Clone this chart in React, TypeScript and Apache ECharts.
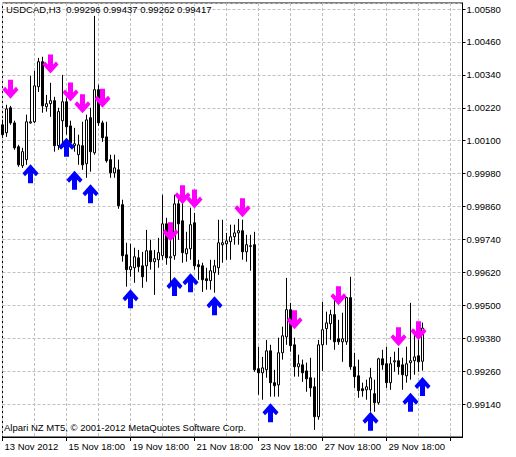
import React, { useEffect, useRef } from "react";
import * as echarts from "echarts";

const FONT = "'Liberation Sans', Arial, sans-serif";

// OHLC of USDCAD H3 bars, 13 Nov 2012 18:00 onwards
const opens = [
  1.00158, 1.00129, 1.0022, 1.00165, 1.00078, 1.00009, 1.00031, 1.00165, 1.00169, 1.00297,
  1.00388, 1.00224, 1.00235, 1.00246, 1.00082, 1.00173, 1.00242, 1.00154, 1.00082, 1.00049,
  1.00082, 1.00016, 1.00184, 1.00056, 1.00286, 1.00165, 1.00114, 1.00031, 0.99983, 0.99994,
  0.99867, 0.99684, 0.9963, 0.99637, 0.99673, 0.99644, 0.99644, 0.99699, 0.99659, 0.99666,
  0.99681, 0.99797, 0.99673, 0.99681, 0.9987, 0.99808, 0.99688, 0.99706, 0.99801, 0.99648,
  0.99644, 0.99597, 0.9959, 0.99619, 0.99637, 0.99721, 0.99724, 0.99732, 0.9975, 0.99764,
  0.99772, 0.99695, 0.99717, 0.99721, 0.99269, 0.99254, 0.99265, 0.99334, 0.99218, 0.9921,
  0.99327, 0.99385, 0.99484, 0.99356, 0.99276, 0.99283, 0.99261, 0.99236, 0.99203, 0.99094,
  0.99356, 0.99415, 0.99433, 0.99466, 0.99378, 0.99367, 0.99367, 0.99528, 0.99276, 0.99243,
  0.99196, 0.99192, 0.99192, 0.99178, 0.99145, 0.99305, 0.99287, 0.99218, 0.99294, 0.99298,
  0.99283, 0.99243, 0.99291, 0.99298, 0.99316, 0.99296,
];
const closes = [
  1.00122, 1.00216, 1.00165, 1.00074, 1.00012, 1.0006, 1.00169, 1.00169, 1.003, 1.00388,
  1.00227, 1.00235, 1.00246, 1.00082, 1.00206, 1.00242, 1.00151, 1.00093, 1.00089, 1.00085,
  1.00012, 1.00176, 1.0006, 1.00286, 1.00165, 1.00111, 1.00027, 0.99983, 1.00001, 0.99863,
  0.99681, 0.9963, 0.99641, 0.99677, 0.99641, 0.99604, 0.99699, 0.99659, 0.9967, 0.99692,
  0.99797, 0.99673, 0.99677, 0.9987, 0.99797, 0.99692, 0.99706, 0.99794, 0.99644, 0.99641,
  0.99593, 0.9959, 0.99626, 0.99644, 0.99728, 0.99728, 0.99735, 0.9975, 0.99764, 0.99772,
  0.99695, 0.99721, 0.99715, 0.99265, 0.99254, 0.99272, 0.99334, 0.99218, 0.99207, 0.99327,
  0.99389, 0.99484, 0.99353, 0.99276, 0.99287, 0.99254, 0.99232, 0.99199, 0.99094, 0.99356,
  0.99411, 0.99436, 0.99466, 0.99367, 0.99367, 0.99378, 0.99528, 0.99276, 0.9924, 0.99189,
  0.99189, 0.99203, 0.99236, 0.99145, 0.99305, 0.99283, 0.99218, 0.99287, 0.99298, 0.99276,
  0.99247, 0.99287, 0.99298, 0.99312, 0.99294, 0.99417,
];
const lows = [
  1.00111, 1.00114, 1.00158, 1.00067, 1.00005, 1.00001, 1.00012, 1.00162, 1.00165, 1.00278,
  1.00202, 1.00206, 1.00187, 1.0006, 1.00067, 1.00078, 1.00122, 1.00074, 1.0006, 1.00012,
  0.99994, 0.99965, 0.99987, 1.00049, 1.00154, 1.00096, 1.0002, 0.99965, 0.99965, 0.99852,
  0.99659, 0.99568, 0.99604, 0.99582, 0.99622, 0.99564, 0.99586, 0.9963, 0.99538, 0.99637,
  0.99666, 0.99648, 0.99582, 0.99666, 0.99739, 0.99655, 0.99659, 0.99666, 0.9963, 0.99593,
  0.99549, 0.99557, 0.99557, 0.99546, 0.99611, 0.99655, 0.99666, 0.99666, 0.99721, 0.99721,
  0.99666, 0.99659, 0.99626, 0.99258, 0.99174, 0.99156, 0.99236, 0.99167, 0.99167, 0.99167,
  0.99302, 0.99356, 0.99331, 0.9924, 0.9924, 0.99221, 0.99185, 0.99167, 0.99046, 0.99083,
  0.99261, 0.99356, 0.99374, 0.99338, 0.99356, 0.99294, 0.99356, 0.99265, 0.99199, 0.99163,
  0.99167, 0.99156, 0.99112, 0.99112, 0.99138, 0.99265, 0.99199, 0.99192, 0.99258, 0.99247,
  0.99192, 0.99218, 0.99229, 0.99247, 0.99258, 0.99262,
];
const highs = [
  1.00176, 1.00231, 1.00227, 1.00173, 1.00085, 1.00074, 1.00195, 1.00337, 1.00355, 1.00402,
  1.00406, 1.00267, 1.00311, 1.0026, 1.0022, 1.0034, 1.00257, 1.00173, 1.00147, 1.00122,
  1.00169, 1.00195, 1.0022, 1.00555, 1.00304, 1.00173, 1.00169, 1.00049, 1.00049, 1.00031,
  0.99885, 0.99728, 0.99724, 0.9971, 0.99702, 0.99695, 0.99775, 0.99739, 0.99702, 0.99746,
  0.99903, 0.99819, 0.99739, 0.99903, 0.99892, 0.99885, 0.99768, 0.99856, 0.99837, 0.99666,
  0.99655, 0.99637, 0.99666, 0.99666, 0.99812, 0.99812, 0.99764, 0.99794, 0.99794, 0.99815,
  0.99812, 0.99757, 0.99757, 0.99768, 0.99349, 0.99312, 0.99374, 0.99356, 0.99265, 0.99382,
  0.99422, 0.996, 0.99509, 0.99382, 0.9932, 0.99302, 0.99291, 0.99309, 0.99236, 0.99374,
  0.99513, 0.99477, 0.99484, 0.9952, 0.99447, 0.99473, 0.99531, 0.99604, 0.99327, 0.99302,
  0.99218, 0.99229, 0.99272, 0.99229, 0.99309, 0.99338, 0.99349, 0.99312, 0.99331, 0.99345,
  0.99309, 0.99349, 0.99509, 0.99411, 0.99436, 0.99437,
];

// Signal arrows: bar index and price of the arrow centre
const sellBars = [2, 12, 17, 20, 25, 42, 45, 48, 60, 73, 84, 99, 104];
const sellPrices = [1.00288, 1.0038, 1.00278, 1.00235, 1.00255, 0.99768, 0.99903, 0.99888, 0.99856, 0.99447, 0.99535, 0.99385, 0.99407];
const buyBars = [7, 16, 18, 22, 32, 43, 47, 53, 67, 92, 102, 105];
const buyPrices = [0.9998, 1.00076, 0.99956, 0.99907, 0.99524, 0.99569, 0.99582, 0.99498, 0.99108, 0.99077, 0.99147, 0.99204];

const askPrice = 0.99453;
const bidPrice = 0.99417;

const tickLabels = ["13 Nov 2012", "15 Nov 18:00", "19 Nov 18:00", "21 Nov 18:00", "23 Nov 18:00", "27 Nov 18:00", "29 Nov 18:00"];
const yMin = 0.9902;
const yMax = 1.00602;
const yStep = 0.0012;
const SLOTS = 116;

const MONTHS = ["Jan", "Feb", "Mar", "Apr", "May", "Jun", "Jul", "Aug", "Sep", "Oct", "Nov", "Dec"];
function buildCategories(count: number): string[] {
  const out: string[] = [];
  let t = Date.UTC(2012, 10, 13, 18);
  while (out.length < count) {
    const d = new Date(t);
    const wd = d.getUTCDay();
    if (wd !== 0 && wd !== 6) {
      const hh = String(d.getUTCHours()).padStart(2, "0");
      out.push(`${d.getUTCDate()} ${MONTHS[d.getUTCMonth()]} ${hh}:00`);
    }
    t += 3 * 3600 * 1000;
  }
  return out;
}

const DOWN_PATH = "path://M5.5,0L10.5,0L10.5,10L13.5,7L16,10L8,19L0,10L2.5,7L5.5,10Z";
const UP_PATH = "path://M5.5,19L10.5,19L10.5,9L13.5,12L16,9L8,0L0,9L2.5,12L5.5,9Z";

export default function App() {
  const ref = useRef<HTMLDivElement>(null);
  useEffect(() => {
    document.body.style.margin = "0";
    const chart = echarts.init(ref.current!, null, { renderer: "svg" });
    const categories = buildCategories(SLOTS);
    const last = opens.length - 1;
    const header = `USDCAD,H3  ${opens[last].toFixed(5)} ${highs[last].toFixed(5)} ${lows[last].toFixed(5)} ${closes[last].toFixed(5)}`;
    const option: any = {
      animation: false,
      backgroundColor: "#ffffff",
      textStyle: { fontFamily: FONT },
      grid: {
        left: 2.5,
        top: 3,
        width: 460,
        height: 434,
        show: true,
        borderColor: "#000000",
        borderWidth: 1,
        backgroundColor: "transparent",
      },
      xAxis: {
        type: "category",
        data: categories,
        boundaryGap: false,
        axisLine: { show: true, lineStyle: { color: "#000000", width: 1 } },
        axisTick: { show: true, interval: 15, length: 4, lineStyle: { color: "#000000" } },
        axisLabel: {
          interval: 15,
          formatter: (_v: string, i: number) => (i % 16 === 0 ? tickLabels[i / 16] ?? "" : ""),
          align: "left",
          margin: 4,
          padding: [0, 0, 0, 2],
          color: "#000000",
          fontSize: 9.5,
          fontFamily: FONT,
        },
        splitLine: { show: true, interval: 7, lineStyle: { color: "#c0c0c0", type: [3, 2], width: 1 } },
      },
      yAxis: {
        type: "value",
        position: "right",
        min: yMin,
        max: yMax,
        interval: yStep,
        axisLine: { show: true, lineStyle: { color: "#000000" } },
        axisTick: { show: true, length: 3, lineStyle: { color: "#000000" } },
        axisLabel: {
          showMinLabel: false,
          showMaxLabel: false,
          formatter: (v: number) => v.toFixed(5),
          margin: 4,
          color: "#000000",
          fontSize: 9.5,
          fontFamily: FONT,
        },
        splitLine: { show: true, lineStyle: { color: "#c0c0c0", type: [3, 2], width: 1 } },
      },
      series: [
        {
          type: "candlestick",
          data: opens.map((o, i) => [o, closes[i], lows[i], highs[i]]),
          barWidth: 2,
          silent: true,
          itemStyle: {
            color: "#ffffff",
            color0: "#000000",
            borderColor: "#000000",
            borderColor0: "#000000",
            borderWidth: 1,
          },
          markLine: {
            silent: true,
            symbol: ["none", "none"],
            lineStyle: { color: "#c0c0c0", type: "solid", width: 1 },
            label: {
              show: true,
              position: "end",
              distance: 4,
              formatter: (p: any) => Number(p.value).toFixed(5),
              color: "#ffffff",
              backgroundColor: "#c0c0c0",
              padding: [0, 2],
              lineHeight: 9,
              fontSize: 9.5,
              fontFamily: FONT,
            },
            data: [{ yAxis: askPrice }, { yAxis: bidPrice }],
          },
        },
        {
          type: "scatter",
          data: sellBars.map((b, i) => [b, sellPrices[i]]),
          symbol: DOWN_PATH,
          symbolSize: [16, 19],
          itemStyle: { color: "#ff00ff", opacity: 1 },
          silent: true,
          z: 5,
        },
        {
          type: "scatter",
          data: buyBars.map((b, i) => [b, buyPrices[i]]),
          symbol: UP_PATH,
          symbolSize: [16, 19],
          itemStyle: { color: "#0000ff", opacity: 1 },
          silent: true,
          z: 5,
        },
      ],
      graphic: [
        {
          type: "text",
          left: 6,
          top: 4,
          z: 10,
          style: { text: header, fill: "#000000", font: `9.5px ${FONT}` },
        },
        {
          type: "text",
          left: 4,
          top: 422,
          z: 10,
          style: { text: "Alpari NZ MT5, © 2001-2012 MetaQuotes Software Corp.", fill: "#000000", font: `9.5px ${FONT}` },
        },
      ],
    };
    chart.setOption(option);
    return () => chart.dispose();
  }, []);
  return <div ref={ref} style={{ width: 516, height: 457, background: "#ffffff" }} />;
}
